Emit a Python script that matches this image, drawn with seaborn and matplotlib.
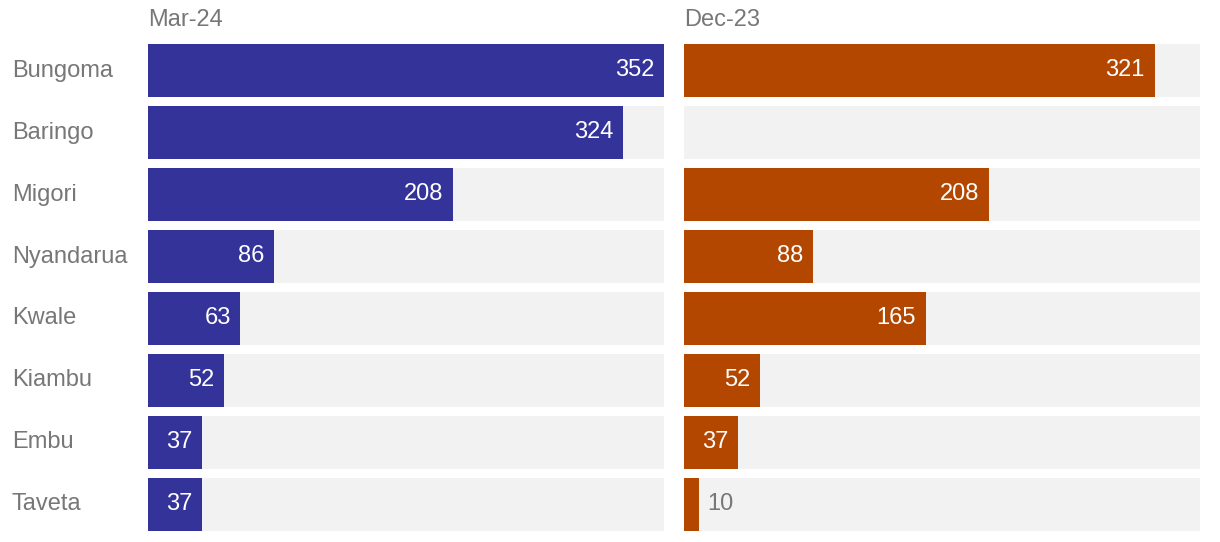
import numpy as np
import pandas as pd
import matplotlib
matplotlib.use("Agg")
import matplotlib.pyplot as plt
import seaborn as sns

counties = ["Bungoma", "Baringo", "Migori", "Nyandarua", "Kwale", "Kiambu", "Embu", "Taveta"]
mar_24 = [352, 324, 208, 86, 63, 52, 37, 37]
dec_23 = [321, np.nan, 208, 88, 165, 52, 37, 10]
panel_titles = ["Mar-24", "Dec-23"]
bar_colors = ["#343399", "#b34700"]

sns.set_theme(style="white")
plt.rcParams["font.family"] = ["Liberation Sans", "DejaVu Sans"]

W, H = 1220, 542
fig = plt.figure(figsize=(W / 100, H / 100), dpi=100)

top_px, bot_px = 44, 531
ax_left = fig.add_axes([148 / W, 1 - bot_px / H, 516 / W, (bot_px - top_px) / H])
ax_right = fig.add_axes([684 / W, 1 - bot_px / H, 516 / W, (bot_px - top_px) / H])

bar_w = 53 / 62
scale_max = np.nanmax([mar_24, dec_23])
label_gray = "#777777"
fs = 17

for ax, vals, title, color in zip([ax_left, ax_right], [mar_24, dec_23],
                                  panel_titles, bar_colors):
    df = pd.DataFrame({"county": counties, "value": vals,
                       "full": [scale_max] * len(counties)})
    sns.barplot(data=df, x="full", y="county", color="#f2f2f2", width=bar_w,
                saturation=1, linewidth=0, ax=ax, orient="h")
    sns.barplot(data=df, x="value", y="county", color=color, width=bar_w,
                saturation=1, linewidth=0, ax=ax, orient="h")

    ax.set_xlim(0, scale_max)
    ax.set_ylim(len(counties) - 1 + bar_w / 2, -bar_w / 2)
    ax.set_xlabel("")
    ax.set_ylabel("")
    ax.set_xticks([])
    sns.despine(ax=ax, left=True, bottom=True)

    for i, v in enumerate(vals):
        if np.isnan(v):
            continue
        if v < 20:
            ax.annotate(f"{v:.0f}", (v, i), xytext=(6.5, 0), textcoords="offset points",
                        ha="left", va="center", color=label_gray, fontsize=fs)
        else:
            ax.annotate(f"{v:.0f}", (v, i), xytext=(-7, 0), textcoords="offset points",
                        ha="right", va="center", color="white", fontsize=fs)

    ax.text(0, 1.0 + 24 / (bot_px - top_px), title, transform=ax.transAxes,
            ha="left", va="center", color=label_gray, fontsize=fs)

ax_right.set_yticks([])
ax_left.tick_params(axis="y", length=0, pad=0)
ax_left.set_yticks(range(len(counties)))
ax_left.set_yticklabels([])
for i, name in enumerate(counties):
    ax_left.annotate(name, (0, i), xycoords=("figure fraction", "data"),
                     xytext=(12 * 0.72, 0), textcoords="offset points",
                     ha="left", va="center", color=label_gray, fontsize=fs)

fig.savefig("out.png", dpi=100)
